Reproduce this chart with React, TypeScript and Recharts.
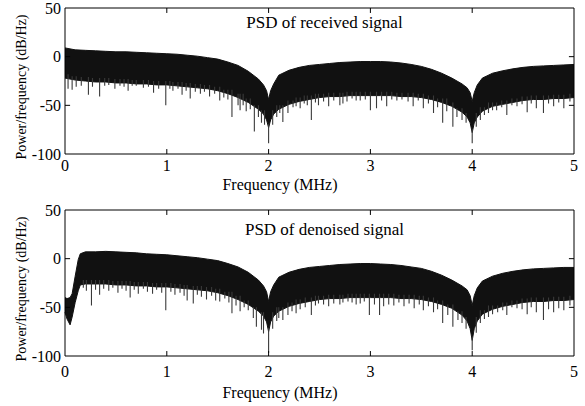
import { ComposedChart, Area, Line, XAxis, YAxis, ReferenceArea, ReferenceLine, Label } from "recharts";

const FONT = '"Liberation Serif"';

const X_TICKS = [0, 1, 2, 3, 4, 5];
const Y_TICKS = [-100, -50, 0, 50];
const X_INNER = [1, 2, 3, 4];
const Y_INNER = [-50, 0];

// received signal: upper / lower edge of the dense PSD band (dB/Hz)
const TOP_FREQ = [0, 0.1, 0.2, 0.3, 0.4, 0.5, 0.6, 0.7, 0.8, 0.9, 1.0, 1.1, 1.2, 1.3, 1.4, 1.5, 1.6, 1.7, 1.8, 1.9, 1.95, 1.98, 2.0, 2.02, 2.05, 2.1, 2.2, 2.3, 2.4, 2.5, 2.6, 2.7, 2.8, 2.9, 3.0, 3.1, 3.2, 3.3, 3.4, 3.5, 3.6, 3.7, 3.8, 3.9, 3.95, 3.98, 4.0, 4.02, 4.05, 4.1, 4.2, 4.3, 4.4, 4.5, 4.6, 4.7, 4.8, 4.9, 5.0];
const TOP_UPPER = [9, 7, 6.5, 6, 5.5, 5, 5, 4.5, 4, 3.5, 3, 2.5, 1.5, 0.5, -1, -2.5, -5.5, -9, -15, -23, -29, -35, -44, -35, -28, -19, -14, -11, -9, -8, -7, -6, -5.5, -5, -5, -5, -5.5, -6.5, -8, -10, -13, -17, -22, -28, -32, -37, -46, -37, -29, -22, -17, -14.5, -12.5, -11, -10, -9.5, -9, -8.5, -8];
const TOP_LOWER = [-22, -24, -25, -26, -26, -27, -27, -28, -28, -29, -29, -30, -31, -32, -33, -35, -38, -42, -47, -54, -59, -65, -73, -65, -59, -54, -49, -46, -44, -42, -41, -41, -40, -40, -40, -40, -40, -41, -41, -42, -44, -47, -51, -57, -62, -68, -78, -68, -62, -56, -51, -49, -47, -45, -44, -44, -43, -43, -42];
// [frequency MHz, spike bottom dB/Hz]
const TOP_SPIKES = [
  [0.03, -33], [0.07, -34], [0.11, -31], [0.16, -30], [0.23, -39], [0.27, -31], [0.34, -41], [0.39, -30], [0.43, -29], [0.49, -33],
  [0.54, -30], [0.58, -31], [0.62, -35], [0.66, -30], [0.7, -30], [0.77, -32], [0.82, -31], [0.87, -37], [0.92, -33], [0.99, -50],
  [1.03, -33], [1.06, -35], [1.11, -33], [1.15, -39], [1.19, -35], [1.23, -43], [1.28, -36], [1.33, -38], [1.37, -36], [1.42, -41],
  [1.47, -38], [1.52, -45], [1.56, -42], [1.6, -44], [1.64, -62], [1.7, -50], [1.72, -55], [1.75, -50], [1.78, -56], [1.82, -54],
  [1.86, -77], [1.9, -62], [1.93, -68], [1.96, -70], [2.0, -89], [2.04, -70], [2.08, -62], [2.11, -58], [2.14, -67], [2.19, -58],
  [2.24, -52], [2.27, -51], [2.31, -53], [2.35, -48], [2.38, -50], [2.42, -65], [2.46, -47], [2.49, -50], [2.54, -46], [2.59, -51],
  [2.64, -45], [2.7, -50], [2.73, -48], [2.77, -46], [2.82, -43], [2.86, -45], [2.9, -45], [2.95, -44], [3.0, -55], [3.06, -53],
  [3.11, -45], [3.16, -51], [3.21, -44], [3.26, -45], [3.31, -44], [3.37, -46], [3.42, -51], [3.47, -45], [3.52, -53], [3.57, -48],
  [3.62, -58], [3.66, -52], [3.71, -68], [3.75, -56], [3.81, -72], [3.85, -62], [3.9, -65], [3.94, -68], [4.0, -89], [4.04, -72],
  [4.08, -65], [4.12, -60], [4.16, -58], [4.2, -55], [4.24, -55], [4.29, -52], [4.34, -60], [4.39, -50], [4.44, -51], [4.49, -49],
  [4.54, -57], [4.58, -48], [4.63, -53], [4.7, -58], [4.75, -48], [4.8, -51], [4.85, -47], [4.9, -53], [4.96, -46],
];

// denoised signal
const BOT_FREQ = [0, 0.02, 0.05, 0.07, 0.1, 0.13, 0.15, 0.2, 0.3, 0.4, 0.5, 0.6, 0.7, 0.8, 0.9, 1.0, 1.1, 1.2, 1.3, 1.4, 1.5, 1.6, 1.7, 1.8, 1.9, 1.95, 1.98, 2.0, 2.02, 2.05, 2.1, 2.2, 2.3, 2.4, 2.5, 2.6, 2.7, 2.8, 2.9, 3.0, 3.1, 3.2, 3.3, 3.4, 3.5, 3.6, 3.7, 3.8, 3.9, 3.95, 3.98, 4.0, 4.02, 4.05, 4.1, 4.2, 4.3, 4.4, 4.5, 4.6, 4.7, 4.8, 4.9, 5.0];
const BOT_UPPER = [-40, -41, -40, -36, -18, -1, 5, 7, 7, 7.5, 7, 6.5, 6, 5, 4.5, 4, 3, 2, 1, -0.5, -2, -5, -8.5, -14, -22, -28, -34, -44, -34, -27, -19, -14, -11, -9, -8, -7, -6, -5.5, -5, -5, -5.5, -6, -7, -8.5, -10, -13, -17, -22, -28, -32, -38, -48, -38, -30, -23, -18, -15, -13, -11.5, -10.5, -10, -9.5, -9, -9];
const BOT_LOWER = [-55, -62, -68, -60, -45, -33, -27, -26, -26, -26, -27, -27, -28, -28, -29, -29, -30, -31, -32, -33, -35, -38, -42, -47, -54, -59, -65, -75, -65, -59, -54, -49, -46, -44, -42, -41, -41, -40, -40, -40, -40, -40, -41, -41, -42, -44, -47, -51, -58, -64, -72, -84, -72, -64, -57, -52, -49, -47, -45, -44, -44, -43, -43, -42];
const BOT_SPIKES = [
  [0.18, -30], [0.21, -33], [0.26, -48], [0.3, -32], [0.34, -37], [0.38, -31], [0.43, -33], [0.47, -30], [0.52, -35], [0.56, -31],
  [0.6, -33], [0.64, -40], [0.68, -32], [0.72, -36], [0.77, -31], [0.81, -34], [0.86, -36], [0.9, -32], [0.95, -35], [0.99, -53],
  [1.04, -34], [1.08, -37], [1.13, -35], [1.17, -38], [1.2, -43], [1.26, -46], [1.3, -37], [1.34, -39], [1.39, -42], [1.44, -38],
  [1.48, -43], [1.52, -44], [1.57, -41], [1.61, -45], [1.64, -56], [1.68, -48], [1.72, -54], [1.76, -50], [1.8, -53], [1.85, -61],
  [1.88, -70], [1.93, -73], [1.95, -77], [2.0, -97], [2.04, -72], [2.08, -64], [2.1, -61], [2.14, -63], [2.19, -58], [2.23, -54],
  [2.27, -56], [2.31, -52], [2.36, -50], [2.42, -58], [2.46, -48], [2.49, -46], [2.54, -47], [2.59, -49], [2.64, -46], [2.7, -47],
  [2.73, -45], [2.78, -44], [2.82, -45], [2.86, -47], [2.9, -46], [2.94, -44], [2.99, -58], [3.04, -47], [3.09, -58], [3.13, -49],
  [3.18, -47], [3.23, -48], [3.28, -45], [3.33, -49], [3.38, -46], [3.43, -51], [3.48, -47], [3.52, -53], [3.57, -49], [3.62, -55],
  [3.66, -52], [3.71, -66], [3.76, -58], [3.81, -70], [3.86, -63], [3.9, -66], [3.94, -72], [4.0, -94], [4.04, -76], [4.08, -66],
  [4.12, -62], [4.16, -60], [4.2, -57], [4.25, -55], [4.3, -53], [4.34, -58], [4.39, -50], [4.44, -51], [4.49, -52], [4.54, -57],
  [4.58, -50], [4.63, -55], [4.7, -63], [4.75, -52], [4.8, -55], [4.85, -51], [4.9, -53], [4.96, -48],
];

function nearestIndex(freq: number[], f: number) {
  let best = 0;
  for (let i = 1; i < freq.length; i++) {
    if (Math.abs(freq[i] - f) < Math.abs(freq[best] - f)) best = i;
  }
  return best;
}

type PanelProps = {
  title: string;
  freq: number[];
  upper: number[];
  lower: number[];
  spikes: number[][];
  titleDy: number;
  tickDy: number;
  labelDy: number;
};

const textStyle = (size: number) => ({ fontFamily: FONT, fontSize: size, fill: "#000" });

function Panel({ title, freq, upper, lower, spikes, titleDy, tickDy, labelDy }: PanelProps) {
  const band = freq.map((f, i) => ({ f, band: [lower[i], upper[i]] }));
  // each spike hangs from inside the band down to its bottom value
  const spikeRows = spikes.flatMap(([f, low]) => {
    const top = lower[nearestIndex(freq, f)] + 4;
    return [{ f, v: top }, { f, v: low }, { f, v: null }];
  });

  return (
    <ComposedChart width={585} height={200} margin={{ top: 8, right: 11, bottom: 16, left: 0 }}>
      <XAxis
        dataKey="f"
        type="number"
        domain={[0, 5]}
        ticks={X_TICKS}
        height={30}
        axisLine={false}
        tickLine={false}
        tickSize={0}
        tickMargin={0}
        interval={0}
        tick={({ x, y, payload }: any) => (
          <text x={x} y={y + tickDy} textAnchor="middle" style={textStyle(16)}>
            {payload.value}
          </text>
        )}
        label={{
          content: ({ viewBox }: any) => (
            <text x={viewBox.x + 215} y={viewBox.y + labelDy} textAnchor="middle" style={textStyle(16)}>
              Frequency (MHz)
            </text>
          ),
        }}
      />
      <YAxis
        type="number"
        domain={[-100, 50]}
        ticks={Y_TICKS}
        width={65}
        axisLine={false}
        tickLine={false}
        tickSize={0}
        tickMargin={0}
        interval={0}
        tick={({ x, y, payload }: any) => (
          <text x={x - 4} y={y + 5.5} textAnchor="end" style={textStyle(16)}>
            {payload.value}
          </text>
        )}
        label={{
          content: ({ viewBox }: any) => {
            const cx = viewBox.x + 21;
            const cy = viewBox.y + viewBox.height / 2 + 6;
            return (
              <text
                x={cx}
                y={cy}
                transform={`rotate(-90, ${cx}, ${cy})`}
                textAnchor="middle"
                dominantBaseline="central"
                style={textStyle(14)}
              >
                Power/frequency (dB/Hz)
              </text>
            );
          },
        }}
      />
      <Area
        data={band}
        dataKey="band"
        type="linear"
        stroke="#111"
        strokeWidth={1}
        fill="#111"
        fillOpacity={1}
        dot={false}
        activeDot={false}
        isAnimationActive={false}
      />
      <Line
        data={spikeRows}
        dataKey="v"
        type="linear"
        stroke="#3a3a3a"
        strokeWidth={1.1}
        dot={false}
        activeDot={false}
        connectNulls={false}
        isAnimationActive={false}
      />
      <ReferenceArea x1={0} x2={5} y1={-100} y2={50} fill="none" stroke="#000" strokeWidth={1}>
        <Label
          content={({ viewBox }: any) => (
            <text x={viewBox.x + viewBox.width / 2 + 5} y={viewBox.y + titleDy} textAnchor="middle" style={textStyle(17)}>
              {title}
            </text>
          )}
        />
      </ReferenceArea>
      {X_INNER.map((t) => (
        <ReferenceLine key={`b${t}`} segment={[{ x: t, y: -100 }, { x: t, y: -94.9 }]} stroke="#000" />
      ))}
      {X_INNER.map((t) => (
        <ReferenceLine key={`t${t}`} segment={[{ x: t, y: 50 }, { x: t, y: 44.9 }]} stroke="#000" />
      ))}
      {Y_INNER.map((t) => (
        <ReferenceLine key={`l${t}`} segment={[{ x: 0, y: t }, { x: 0.05, y: t }]} stroke="#000" />
      ))}
      {Y_INNER.map((t) => (
        <ReferenceLine key={`r${t}`} segment={[{ x: 5, y: t }, { x: 4.95, y: t }]} stroke="#000" />
      ))}
    </ComposedChart>
  );
}

export default function App() {
  return (
    <div style={{ position: "absolute", left: 0, top: 0, width: 585, height: 406, background: "#fff" }}>
      <div style={{ position: "absolute", left: 0, top: 0 }}>
        <Panel
          title="PSD of received signal"
          freq={TOP_FREQ}
          upper={TOP_UPPER}
          lower={TOP_LOWER}
          spikes={TOP_SPIKES}
          titleDy={20}
          tickDy={17}
          labelDy={35.5}
        />
      </div>
      <div style={{ position: "absolute", left: 0, top: 202 }}>
        <Panel
          title="PSD of denoised signal"
          freq={BOT_FREQ}
          upper={BOT_UPPER}
          lower={BOT_LOWER}
          spikes={BOT_SPIKES}
          titleDy={25}
          tickDy={20.5}
          labelDy={42}
        />
      </div>
    </div>
  );
}
